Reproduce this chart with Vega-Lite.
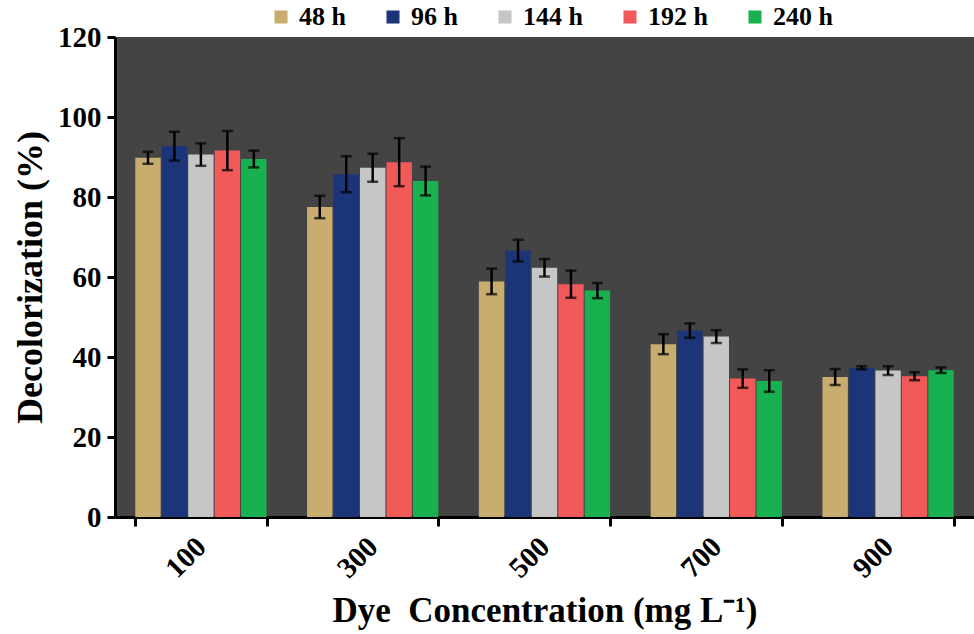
{
  "$schema": "https://vega.github.io/schema/vega-lite/v6.json",
  "width": 859,
  "height": 480,
  "autosize": {"type": "none"},
  "padding": {"left": 115, "top": 37, "right": 0, "bottom": 117},
  "background": "white",
  "config": {
    "view": {"fill": "#444444", "stroke": null},
    "font": "Liberation Serif"
  },
  "data": {
    "values": [
      {"conc": "100", "time": "48 h", "v": 89.8, "e": 1.5},
      {"conc": "100", "time": "96 h", "v": 92.7, "e": 3.6},
      {"conc": "100", "time": "144 h", "v": 90.6, "e": 2.8},
      {"conc": "100", "time": "192 h", "v": 91.6, "e": 4.9},
      {"conc": "100", "time": "240 h", "v": 89.5, "e": 2.1},
      {"conc": "300", "time": "48 h", "v": 77.5, "e": 2.8},
      {"conc": "300", "time": "96 h", "v": 85.7, "e": 4.5},
      {"conc": "300", "time": "144 h", "v": 87.3, "e": 3.5},
      {"conc": "300", "time": "192 h", "v": 88.7, "e": 6.0},
      {"conc": "300", "time": "240 h", "v": 84.0, "e": 3.6},
      {"conc": "500", "time": "48 h", "v": 58.9, "e": 3.2},
      {"conc": "500", "time": "96 h", "v": 66.6, "e": 2.7},
      {"conc": "500", "time": "144 h", "v": 62.3, "e": 2.2},
      {"conc": "500", "time": "192 h", "v": 58.2, "e": 3.4},
      {"conc": "500", "time": "240 h", "v": 56.6, "e": 1.9},
      {"conc": "700", "time": "48 h", "v": 43.2, "e": 2.5},
      {"conc": "700", "time": "96 h", "v": 46.6, "e": 1.8},
      {"conc": "700", "time": "144 h", "v": 45.1, "e": 1.6},
      {"conc": "700", "time": "192 h", "v": 34.6, "e": 2.3},
      {"conc": "700", "time": "240 h", "v": 34.0, "e": 2.7},
      {"conc": "900", "time": "48 h", "v": 35.0, "e": 2.0},
      {"conc": "900", "time": "96 h", "v": 37.3, "e": 0.4},
      {"conc": "900", "time": "144 h", "v": 36.6, "e": 1.1},
      {"conc": "900", "time": "192 h", "v": 35.2, "e": 1.0},
      {"conc": "900", "time": "240 h", "v": 36.7, "e": 0.7}
    ]
  },
  "encoding": {
    "x": {
      "field": "conc",
      "type": "nominal",
      "sort": null,
      "scale": {"paddingInner": 0.236, "paddingOuter": 0.118},
      "axis": {
        "title": "Dye\u00a0 Concentration (mg L\u207b\u00b9)",
        "titleFont": "Liberation Serif",
        "titleFontSize": 35,
        "titleFontWeight": "bold",
        "titleColor": "black",
        "titlePadding": 10,
        "labelAngle": -45,
        "labelAlign": "right",
        "labelBaseline": "middle",
        "labelFont": "Liberation Serif",
        "labelFontSize": 29,
        "labelFontWeight": "bold",
        "labelColor": "black",
        "labelPadding": 16,
        "tickBand": "extent",
        "tickColor": "black",
        "tickWidth": 3,
        "tickSize": 9,
        "domainColor": "black",
        "domainWidth": 3
      }
    },
    "xOffset": {
      "field": "time",
      "type": "nominal",
      "sort": ["48 h", "96 h", "144 h", "192 h", "240 h"],
      "scale": {"paddingInner": 0.04}
    }
  },
  "layer": [
    {
      "mark": {"type": "bar"},
      "encoding": {
        "y": {
          "field": "v",
          "type": "quantitative",
          "title": "Decolorization (%)",
          "scale": {"domain": [0, 120]},
          "axis": {
            "title": "Decolorization (%)",
            "titleFont": "Liberation Serif",
            "titleFontSize": 36,
            "titleFontWeight": "bold",
            "titleColor": "black",
            "titlePadding": 8,
            "values": [0, 20, 40, 60, 80, 100, 120],
            "labelFont": "Liberation Serif",
            "labelFontSize": 29,
            "labelFontWeight": "bold",
            "labelColor": "black",
            "labelPadding": 6,
            "grid": false,
            "tickColor": "black",
            "tickWidth": 3,
            "tickSize": 8,
            "domainColor": "black",
            "domainWidth": 3
          }
        },
        "color": {
          "field": "time",
          "type": "nominal",
          "sort": ["48 h", "96 h", "144 h", "192 h", "240 h"],
          "scale": {
            "domain": ["48 h", "96 h", "144 h", "192 h", "240 h"],
            "range": ["#c8ad6e", "#1c3478", "#c6c6c6", "#f25a5a", "#19b04f"]
          },
          "legend": {
            "title": null,
            "orient": "none",
            "direction": "horizontal",
            "legendX": 153,
            "legendY": -33,
            "symbolType": "square",
            "symbolSize": 170,
            "symbolStrokeWidth": 0,
            "labelFont": "Liberation Serif",
            "labelFontSize": 26,
            "labelFontWeight": "bold",
            "labelColor": "black",
            "labelOffset": 5,
            "columnPadding": 34
          }
        }
      }
    },
    {
      "mark": {
        "type": "errorbar",
        "ticks": {"size": 11, "thickness": 2.5, "color": "black"},
        "rule": {"strokeWidth": 2.5, "color": "black"}
      },
      "encoding": {
        "y": {"field": "v", "type": "quantitative", "title": "Decolorization (%)"},
        "yError": {"field": "e"}
      }
    }
  ]
}
